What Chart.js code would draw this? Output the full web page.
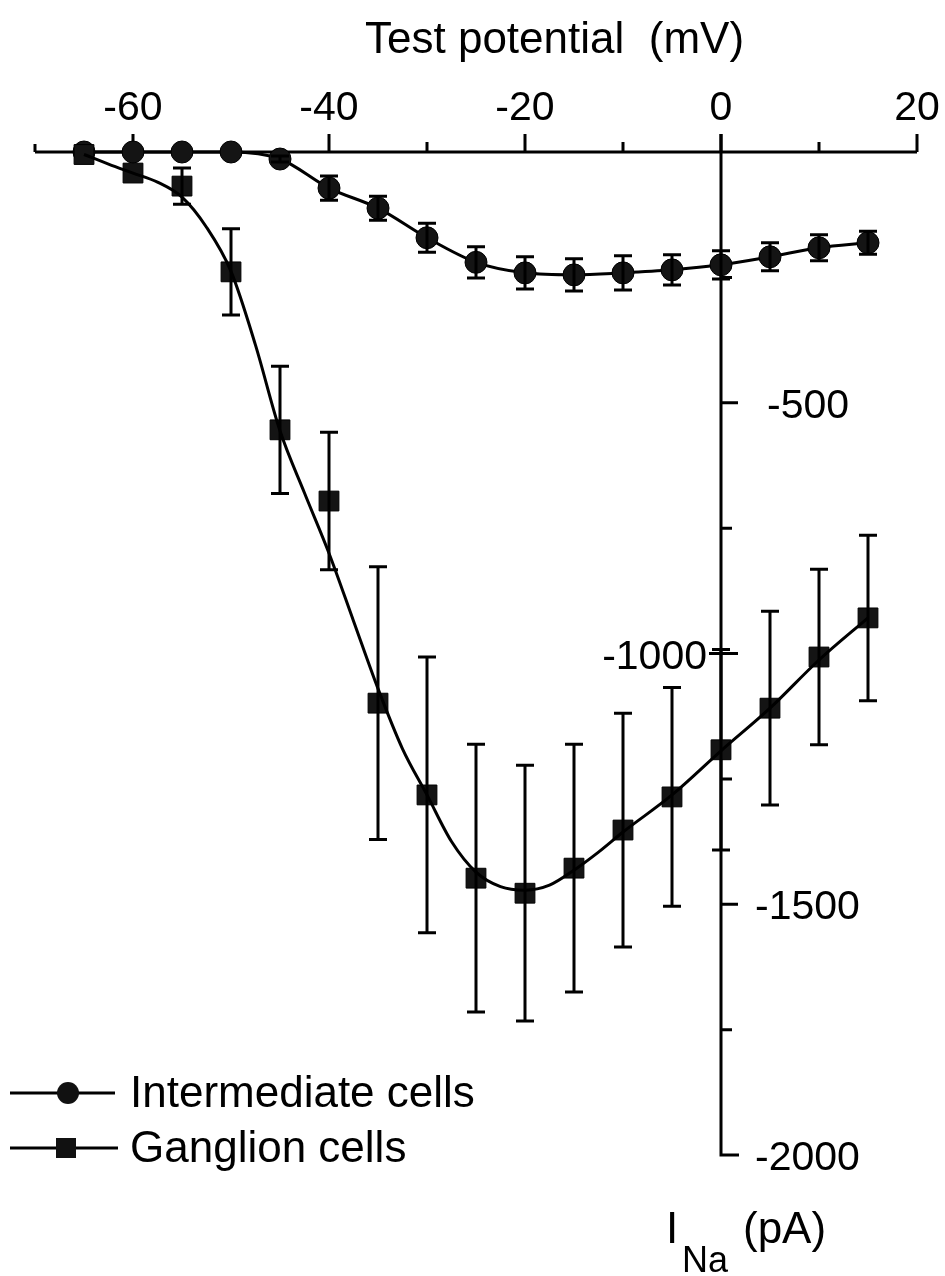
<!DOCTYPE html>
<html>
<head>
<meta charset="utf-8">
<script src="https://cdn.jsdelivr.net/npm/chart.js@4.4.1/dist/chart.umd.min.js"></script>
<style>
    html, body { margin: 0; padding: 0; background: #fff; }
    #wrap { width: 945px; height: 1276px; }
</style>
</head>
<body>
<div id="wrap"><canvas id="ivChart" width="945" height="1276"></canvas></div>
<script>
// Test potentials (mV)
const voltages = [-65, -60, -55, -50, -45, -40, -35, -30, -25, -20, -15, -10, -5, 0, 5, 10, 15];

// Intermediate cells: mean INa (pA) and error
const intermediateCurrent = [0, 0, 0, 0, -14, -72, -112, -171, -220, -241, -245, -241, -235, -225, -209, -191, -181];
const intermediateError = [0, 0, 0, 0, 6, 24, 24, 29, 31, 32, 32, 34, 30, 28, 28, 26, 23];

// Ganglion cells: mean INa (pA) and error
const ganglionCurrent = [-5, -42, -68, -239, -554, -696, -1099, -1282, -1448, -1478, -1428, -1352, -1286, -1192, -1109, -1007, -929];
const ganglionError = [0, 0, 36, 86, 127, 137, 272, 275, 267, 255, 247, 233, 218, 200, 193, 175, 165];

// fitted curve through ganglion data
const fitVoltages = [-65, -62.5, -60, -57.5, -55, -52.5, -50, -47.5, -45, -42.5, -40, -37.5, -35, -32.5, -30, -27.5, -25, -22.5, -20, -17.5, -15, -12.5, -10, -5, 0, 5, 10, 15];
const ganglionFit = [-5, -24, -42, -60, -90, -150, -238, -385, -556, -680, -800, -935, -1070, -1190, -1282, -1375, -1436, -1465, -1472, -1462, -1432, -1396, -1356, -1282, -1194, -1109, -1013, -929];

// axis ticks
const xTicks = [-70, -60, -50, -40, -30, -20, -10, 0, 10, 20];
const xTickLabels = ['-60', '-40', '-20', '0', '20'];
const yTicks = [-250, -500, -750, -1000, -1250, -1500, -1750];
const yTickLabels = ['-500', '-1000', '-1500', '-2000'];

const FONT = "'Liberation Sans', Arial, Helvetica, sans-serif";

function toPoints(xs, ys)
{
    return xs.map((x, i) => ({x: x, y: ys[i]}));
}

const errorBarsPlugin = {
    id: 'errorBars',
    afterDatasetsDraw(chart)
    {
        const ctx = chart.ctx;
        const xs = chart.scales.x;
        const ys = chart.scales.y;
        const sets = [
            {values: intermediateCurrent, errors: intermediateError},
            {values: ganglionCurrent, errors: ganglionError}
        ];
        ctx.save();
        ctx.strokeStyle = '#000';
        ctx.lineWidth = 3;
        sets.forEach(set =>
        {
            voltages.forEach((v, i) =>
            {
                const err = set.errors[i];
                if (!err)
                {
                    return;
                }
                const px = xs.getPixelForValue(v);
                const top = ys.getPixelForValue(set.values[i] + err);
                const bottom = ys.getPixelForValue(set.values[i] - err);
                ctx.beginPath();
                ctx.moveTo(px, top);
                ctx.lineTo(px, bottom);
                ctx.moveTo(px - 9, top);
                ctx.lineTo(px + 9, top);
                ctx.moveTo(px - 9, bottom);
                ctx.lineTo(px + 9, bottom);
                ctx.stroke();
            });
        });
        ctx.restore();
    }
};

const axesPlugin = {
    id: 'crossAxes',
    beforeDatasetsDraw(chart)
    {
        const ctx = chart.ctx;
        const xs = chart.scales.x;
        const ys = chart.scales.y;
        const y0 = ys.getPixelForValue(0);
        const x0 = xs.getPixelForValue(0);
        const yEnd = ys.getPixelForValue(-2000);

        ctx.save();
        ctx.strokeStyle = '#000';
        ctx.lineWidth = 3;
        ctx.lineCap = 'butt';

        // x axis along I = 0
        ctx.beginPath();
        ctx.moveTo(xs.getPixelForValue(-70), y0);
        ctx.lineTo(xs.getPixelForValue(20), y0);
        xTicks.forEach(t =>
        {
            const px = xs.getPixelForValue(t);
            const labelled = xTickLabels.includes(String(t));
            const len = t === -70 ? 8 : (labelled ? 18 : 10);
            ctx.moveTo(px, y0);
            ctx.lineTo(px, y0 - len);
        });
        ctx.stroke();

        // y axis along V = 0
        ctx.beginPath();
        ctx.moveTo(x0, y0 - 18);
        ctx.lineTo(x0, yEnd);
        ctx.lineTo(x0 + 18, yEnd);
        yTicks.forEach(t =>
        {
            const py = ys.getPixelForValue(t);
            const major = t % 500 === 0;
            ctx.moveTo(t === -1000 ? x0 - 12 : x0, py);
            ctx.lineTo(x0 + (major ? 17 : 11), py);
        });
        ctx.stroke();

        // tick labels
        ctx.fillStyle = '#000';
        ctx.font = '41px ' + FONT;
        ctx.textBaseline = 'alphabetic';
        ctx.textAlign = 'center';
        xTickLabels.forEach(lab =>
        {
            ctx.fillText(lab, xs.getPixelForValue(Number(lab)), 120);
        });
        yTickLabels.forEach(lab =>
        {
            const py = ys.getPixelForValue(Number(lab)) + 15;
            if (lab === '-1000')
            {
                ctx.textAlign = 'right';
                ctx.fillText(lab, x0 - 14, py);
            }
            else
            {
                ctx.textAlign = 'left';
                ctx.fillText(lab, x0 + (lab === '-500' ? 46 : 34), py);
            }
        });

        // axis titles
        ctx.textAlign = 'left';
        ctx.font = '44px ' + FONT;
        ctx.fillText('Test potential  (mV)', 365, 53);
        ctx.fillText('I', 666, 1243);
        ctx.fillText('(pA)', 743, 1243);
        ctx.font = '36px ' + FONT;
        ctx.fillText('Na', 682, 1272);
        ctx.restore();
    },
    afterDraw(chart)
    {
        // legend with line + marker samples
        const ctx = chart.ctx;
        ctx.save();
        ctx.strokeStyle = '#000';
        ctx.fillStyle = '#111';
        ctx.lineWidth = 3;
        ctx.beginPath();
        ctx.moveTo(10, 1093);
        ctx.lineTo(115, 1093);
        ctx.moveTo(10, 1148);
        ctx.lineTo(118, 1148);
        ctx.stroke();
        ctx.beginPath();
        ctx.arc(68, 1093, 11, 0, Math.PI * 2);
        ctx.fill();
        ctx.fillRect(56, 1138, 20, 20);
        ctx.fillStyle = '#000';
        ctx.font = '44px ' + FONT;
        ctx.textAlign = 'left';
        ctx.fillText('Intermediate cells', 130, 1107);
        ctx.fillText('Ganglion cells', 130, 1162);
        ctx.restore();
    }
};

function renderChart()
{
    const ctx = document.getElementById('ivChart').getContext('2d');
    new Chart(ctx, {
        type: 'scatter',
        data: {
            datasets: [
                {
                    label: 'Ganglion fit',
                    data: toPoints(fitVoltages, ganglionFit),
                    showLine: true,
                    borderColor: '#000',
                    borderWidth: 3,
                    pointRadius: 0,
                    cubicInterpolationMode: 'monotone',
                    clip: false
                },
                {
                    label: 'Ganglion cells',
                    data: toPoints(voltages, ganglionCurrent),
                    showLine: false,
                    pointStyle: 'rect',
                    pointRadius: 14,
                    pointBackgroundColor: '#141414',
                    pointBorderColor: '#000',
                    pointBorderWidth: 1,
                    clip: false
                },
                {
                    label: 'Intermediate cells',
                    data: toPoints(voltages, intermediateCurrent),
                    showLine: true,
                    borderColor: '#000',
                    borderWidth: 3,
                    cubicInterpolationMode: 'monotone',
                    pointStyle: 'circle',
                    pointRadius: 11,
                    pointBackgroundColor: '#141414',
                    pointBorderColor: '#000',
                    pointBorderWidth: 1,
                    clip: false
                }
            ]
        },
        options: {
            responsive: false,
            animation: false,
            events: [],
            layout: {
                padding: {left: 35, right: 28, top: 152, bottom: 121}
            },
            scales: {
                x: {type: 'linear', min: -70, max: 20, display: false},
                y: {type: 'linear', min: -2000, max: 0, display: false}
            },
            plugins: {
                legend: {display: false},
                tooltip: {enabled: false}
            }
        },
        plugins: [axesPlugin, errorBarsPlugin]
    });
}

renderChart();
</script>
</body>
</html>
